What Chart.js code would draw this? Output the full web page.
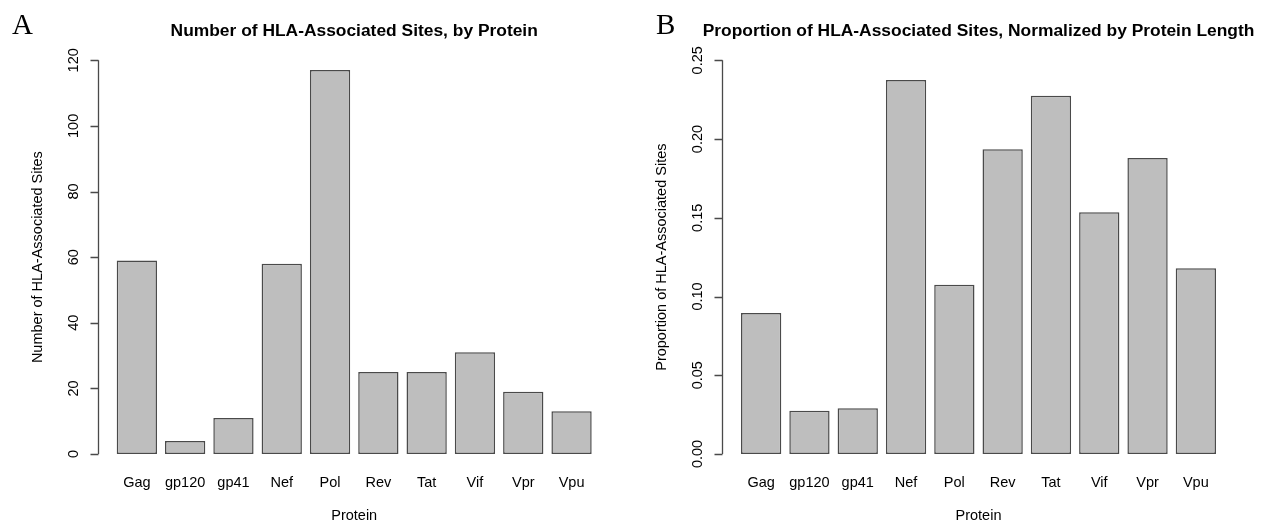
<!DOCTYPE html>
<html>
<head>
<meta charset="utf-8">
<script src="https://cdn.jsdelivr.net/npm/chart.js@4.4.1/dist/chart.umd.min.js"></script>
<style>
  body { margin: 0; background: #fff; }
  #wrap { position: relative; width: 1268px; height: 525px; }
  canvas { position: absolute; top: 0; }
  .panel { position: absolute; font-family: "Liberation Serif", "Times New Roman", serif; font-size: 29px; line-height: 1; color: #000; }
</style>
</head>
<body>
<div id="wrap">
  <canvas id="countChart" width="634" height="525" style="left:0"></canvas>
  <canvas id="propChart" width="634" height="525" style="left:634px"></canvas>
  <div class="panel" style="left:12px; top:10px">A</div>
  <div class="panel" style="left:656px; top:10px">B</div>
</div>
<script>
const proteins = ['Gag', 'gp120', 'gp41', 'Nef', 'Pol', 'Rev', 'Tat', 'Vif', 'Vpr', 'Vpu'];
const siteCounts = [59, 4, 11, 58, 117, 25, 25, 31, 19, 13];
const siteProportions = [0.0895, 0.0275, 0.029, 0.2375, 0.1075, 0.1935, 0.2275, 0.1535, 0.188, 0.118];
const countTicks = [0, 20, 40, 60, 80, 100, 120];
const propTicks = [0, 0.05, 0.10, 0.15, 0.20, 0.25];
const propTickLabels = ['0.00', '0.05', '0.10', '0.15', '0.20', '0.25'];

Chart.defaults.color = '#000';
Chart.defaults.font.family = '"Liberation Sans", Arial, Helvetica, sans-serif';
Chart.defaults.font.size = 14.5;

// R style y axis: line only from first to last tick, ticks pointing out, set off from the bars
const rAxis = {
    id: 'rAxis',
    afterLayout(chart) {
        // keep the title centred over the plot but don't squeeze it to the plot width
        const t = chart.titleBlock;
        const cx = (chart.chartArea.left + chart.chartArea.right) / 2;
        t.left = cx - 317;
        t.right = cx + 317;
    },
    afterDraw(chart) {
        const ys = chart.scales.y;
        const ctx = chart.ctx;
        const x = Math.round(chart.chartArea.left - 15) + 0.5;
        ctx.save();
        ctx.strokeStyle = '#4a4a4a';
        ctx.lineWidth = 1.3;
        ctx.beginPath();
        ctx.moveTo(x, ys.getPixelForValue(ys.min));
        ctx.lineTo(x, ys.getPixelForValue(ys.max));
        ys.ticks.forEach(t => {
            const py = Math.round(ys.getPixelForValue(t.value)) + 0.5;
            ctx.moveTo(x, py);
            ctx.lineTo(x - 8, py);
        });
        ctx.stroke();
        ctx.restore();
    }
};

function makeChart(id, values, tickValues, tickText, yMax, title, yTitle, s) {
    const ctx = document.getElementById(id).getContext('2d');
    return new Chart(ctx, {
        type: 'bar',
        data: {
            labels: proteins,
            datasets: [{
                data: values,
                backgroundColor: '#BEBEBE',
                borderColor: '#4a4a4a',
                borderWidth: 1.5,
                borderSkipped: false,
                categoryPercentage: 1,
                barPercentage: 0.834
            }]
        },
        options: {
            responsive: false,
            animation: false,
            devicePixelRatio: 1,
            layout: {padding: {left: 0, right: s.padRight, top: 0, bottom: 0}},
            plugins: {
                legend: {display: false},
                tooltip: {enabled: false},
                title: {
                    display: true,
                    text: title,
                    fullSize: false,
                    color: '#000',
                    font: {size: 17.4, weight: 'bold'},
                    padding: {top: 20.5, bottom: 18.9}
                }
            },
            scales: {
                x: {
                    offset: true,
                    grid: {display: false, drawTicks: false},
                    border: {display: false},
                    ticks: {padding: 20, color: '#000'},
                    title: {display: true, text: 'Protein', color: '#000', padding: {top: 0, bottom: 0}},
                    afterFit: sc => { sc.height = 71; }
                },
                y: {
                    min: 0,
                    max: yMax,
                    grid: {display: false, drawTicks: false},
                    border: {display: false},
                    afterBuildTicks: sc => { sc.ticks = tickValues.map(v => ({value: v})); },
                    ticks: {
                        minRotation: 90,
                        maxRotation: 90,
                        crossAlign: 'center',
                        padding: s.tickPad,
                        color: '#000',
                        callback: (v, i) => tickText[i]
                    },
                    title: {display: true, text: yTitle, color: '#000', padding: {top: s.titlePad, bottom: 0}},
                    afterFit: sc => { sc.width = s.yWidth; }
                }
            }
        },
        plugins: [rAxis]
    });
}

makeChart('countChart', siteCounts, countTicks, countTicks.map(String), 120,
    'Number of HLA-Associated Sites, by Protein', 'Number of HLA-Associated Sites',
    {padRight: 38.3, yWidth: 112.7, tickPad: 26.5, titlePad: 28.8});

makeChart('propChart', siteProportions, propTicks, propTickLabels, 0.25,
    'Proportion of HLA-Associated Sites, Normalized by Protein Length', 'Proportion of HLA-Associated Sites',
    {padRight: 48, yWidth: 103, tickPad: 25, titlePad: 18.8});
</script>
</body>
</html>
